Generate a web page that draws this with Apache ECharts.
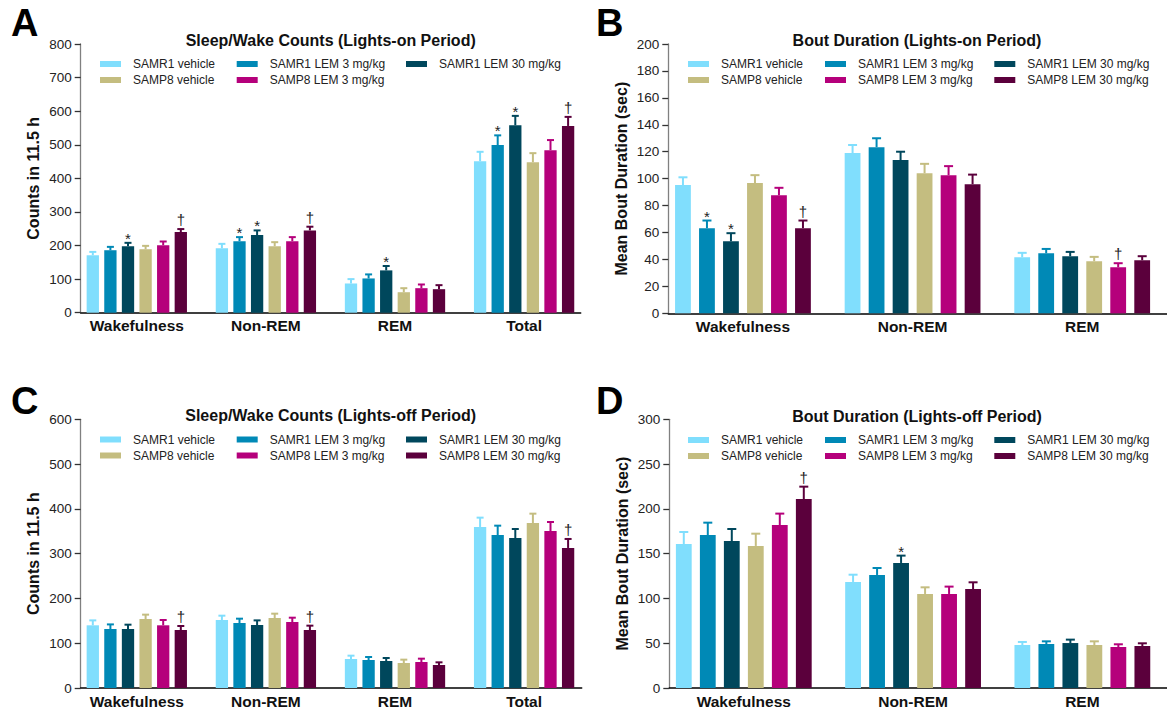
<!DOCTYPE html>
<html><head><meta charset="utf-8">
<script src="https://cdn.jsdelivr.net/npm/echarts@6/dist/echarts.min.js"></script>
<style>html,body{margin:0;padding:0;background:#fff}#c{width:1167px;height:713px}</style>
</head><body><div id="c"></div>
<script>
// ---------- DATA ----------
const seriesNames = ['SAMR1 vehicle','SAMR1 LEM 3 mg/kg','SAMR1 LEM 30 mg/kg','SAMP8 vehicle','SAMP8 LEM 3 mg/kg','SAMP8 LEM 30 mg/kg'];
const colors = ['#80DEFD','#0089B6','#00475C','#C4BD80','#B5007B','#5B003C'];
const catsCounts = ['Wakefulness','Non-REM','REM','Total'];
const catsBout = ['Wakefulness','Non-REM','REM'];

// Panel A: Sleep/Wake counts, lights-on (mean, SEM) per series across categories
const aMean = [[171,192,87,451],[186,213,102,499],[198,231,126,558],[189,198,61,448],[201,213,73,484],[240,245,70,556]];
const aSem  = [[10,13,13,28],[10,12,12,29],[10,14,13,28],[10,12,12,27],[11,12,11,30],[9,11,12,27]];
const aSig  = [['','','',''],['','*','','*'],['*','*','*','*'],['','','',''],['','','',''],['†','†','','†']];

// Panel B: Bout duration, lights-on
const bMean = [[95.2,119,41.6],[63.2,123.4,44.6],[53.5,113.8,42.4],[96.7,104,38.7],[87.7,102.6,34.2],[63.2,95.9,39.4]];
const bSem  = [[5.8,6,3.3],[5.7,6.6,3.2],[6,6.2,3.2],[5.9,7,3.2],[5.5,6.7,3],[5.7,7.1,3]];
const bSig  = [['','',''],['*','',''],['*','',''],['','',''],['','','†'],['†','','']];

// Panel C: Sleep/Wake counts, lights-off
const cMean = [[140,151.9,64.8,359.6],[131.8,145.2,62.5,341.7],[131.8,140.7,60.3,335],[154,156.3,55.8,368.5],[140,147.4,58,350.6],[129.5,129.5,51.4,312.7]];
const cSem  = [[11,9.6,7.4,20.8],[10.2,9.6,6.7,20.8],[9.6,10.3,6.7,20],[9.8,9.7,7.5,20.8],[11.9,9.6,7.5,20.1],[9,9.7,5.9,20.1]];
const cSig  = [['','','',''],['','','',''],['','','',''],['','','',''],['','','',''],['†','†','','†']];

// Panel D: Bout duration, lights-off
const dMean = [[160.8,118.4,48],[170.8,126.2,49.1],[164.1,139.6,50.2],[158.6,105,48],[182,105,45.8],[211,110.5,46.9]];
const dSem  = [[13.4,8.1,3.4],[13.8,7.8,3],[13.4,8.2,3.8],[13.7,7.4,4.1],[12.7,8.2,3],[13.8,7.5,3]];
const dSig  = [['','',''],['','',''],['','*',''],['','',''],['','',''],['†','','']];

const panels = [
  {letter:'A', title:'Sleep/Wake Counts (Lights-on Period)', yName:'Counts in 11.5 h', cats:catsCounts, mean:aMean, sem:aSem, sig:aSig, max:800, interval:100,
   legendCols:[[0,3],[1,4],[2]]},
  {letter:'B', title:'Bout Duration (Lights-on Period)', yName:'Mean Bout Duration (sec)', cats:catsBout, mean:bMean, sem:bSem, sig:bSig, max:200, interval:20,
   legendCols:[[0,3],[1,4],[2,5]]},
  {letter:'C', title:'Sleep/Wake Counts (Lights-off Period)', yName:'Counts in 11.5 h', cats:catsCounts, mean:cMean, sem:cSem, sig:cSig, max:600, interval:100,
   legendCols:[[0,3],[1,4],[2,5]]},
  {letter:'D', title:'Bout Duration (Lights-off Period)', yName:'Mean Bout Duration (sec)', cats:catsBout, mean:dMean, sem:dSem, sig:dSig, max:300, interval:50,
   legendCols:[[0,3],[1,4],[2,5]]}
];

// ---------- LAYOUT ----------
const layouts = [
  {gridLeft:72.25, gridWidth:516.4, top:44, height:268.7, axisX:80.7, axisW:500, barW:12.3, step:17.6, capW:7,
   titleX:330.7, titleY:40.7, letterX:11, letterY:23, legendX:[100,236.7,406], legendY:57, nameGap:39},
  {gridLeft:658.15, gridWidth:522.9, top:44, height:269.3, axisX:668.3, axisW:498.7, barW:15.8, step:24, capW:9,
   titleX:917, titleY:40.7, letterX:596, letterY:23, legendX:[688,825,994.3], legendY:57, nameGap:38.5},
  {gridLeft:72.25, gridWidth:516.4, top:419.3, height:268.7, axisX:80.7, axisW:501, barW:12.3, step:17.6, capW:7,
   titleX:330.7, titleY:415.5, letterX:11, letterY:401, legendX:[100,236.7,406], legendY:432.5, nameGap:39},
  {gridLeft:659.15, gridWidth:522.9, top:419.3, height:268.7, axisX:669.3, axisW:497.7, barW:15.8, step:24, capW:9,
   titleX:917, titleY:416, letterX:596, letterY:401, legendX:[688,825,994.3], legendY:433, nameGap:38.5}
];

const FONT = '"Liberation Sans", Arial, sans-serif';
const grids = [], xAxes = [], yAxes = [], series = [], legends = [], graphics = [];

panels.forEach((p, pi) => {
  const L = layouts[pi];
  const gi = grids.length;
  grids.push({left:L.gridLeft, top:L.top, width:L.gridWidth, height:L.height, containLabel:false});
  xAxes.push({type:'category', gridIndex:gi, data:p.cats,
    axisLine:{show:false}, axisTick:{show:false},
    axisLabel:{fontFamily:FONT, fontSize:15.5, fontWeight:'bold', color:'#111', margin:5}});
  yAxes.push({type:'value', gridIndex:gi, min:0, max:p.max, interval:p.interval,
    offset: L.gridLeft - L.axisX,
    axisLine:{show:true, lineStyle:{color:'#808080', width:1.3}},
    axisTick:{show:true, length:6, lineStyle:{color:'#333', width:1.3}},
    splitLine:{show:false},
    axisLabel:{fontFamily:FONT, fontSize:13.5, color:'#222', margin:9},
    name:p.yName, nameLocation:'middle', nameGap:L.nameGap,
    nameTextStyle:{fontFamily:FONT, fontSize:16, fontWeight:'bold', color:'#111'}});
  const gapPct = ((L.step - L.barW) / L.barW * 100).toFixed(1) + '%';
  p.mean.forEach((vals, s) => {
    series.push({type:'bar', name:seriesNames[s], xAxisIndex:gi, yAxisIndex:gi, data:vals,
      barWidth:L.barW, barGap:gapPct, itemStyle:{color:colors[s]}, silent:true, z:2});
    const off = (s - 2.5) * L.step;
    const sigs = p.sig[s];
    series.push({type:'custom', name:seriesNames[s], xAxisIndex:gi, yAxisIndex:gi, silent:true, z:3,
      data: vals.map((v, ci) => [ci, v, v + p.sem[s][ci]]),
      encode:{x:0, y:[1,2]},
      renderItem: function(params, api){
        const ci = api.value(0);
        const base = api.coord([ci, api.value(1)]);
        const tp = api.coord([ci, api.value(2)]);
        const x = base[0] + off;
        const st = {stroke:colors[s], lineWidth:2};
        const children = [
          {type:'line', shape:{x1:x, y1:base[1], x2:x, y2:tp[1]}, style:st},
          {type:'line', shape:{x1:x - L.capW/2, y1:tp[1], x2:x + L.capW/2, y2:tp[1]}, style:st}
        ];
        const t = sigs[params.dataIndex];
        if (t) {
          children.push({type:'text', z2:10, style:{text:t, x:x, y: t === '*' ? tp[1] + 3 : tp[1] - 2,
            align:'center', verticalAlign:'bottom', font:'15px ' + FONT, fill:'#222'}});
        }
        return {type:'group', children:children};
      }});
  });
  // x axis line (exact extent) on an overlay grid
  const gl = grids.length;
  grids.push({left:L.axisX, top:L.top, width:L.axisW, height:L.height, containLabel:false});
  xAxes.push({type:'value', gridIndex:gl, min:0, max:1, axisLine:{show:true, onZero:false, lineStyle:{color:'#000', width:1.5}},
    axisTick:{show:false}, axisLabel:{show:false}, splitLine:{show:false}});
  yAxes.push({type:'value', gridIndex:gl, min:0, max:1, show:false});
  // legends: one per column
  p.legendCols.forEach((col, k) => {
    legends.push({orient:'vertical', left:L.legendX[k], top:L.legendY, padding:0, itemGap:2,
      itemWidth:21, itemHeight:6, icon:'rect', selectedMode:false,
      data: col.map(i => seriesNames[i]),
      textStyle:{fontFamily:FONT, fontSize:12, color:'#222', lineHeight:14, padding:[0,0,0,7]}});
  });
  graphics.push({type:'text', x:L.titleX, y:L.titleY, style:{text:p.title, align:'center', verticalAlign:'middle',
    font:'bold 16px ' + FONT, fill:'#111'}});
  graphics.push({type:'text', x:L.letterX, y:L.letterY, style:{text:p.letter, align:'left', verticalAlign:'middle',
    font:'bold 38px ' + FONT, fill:'#000'}});
});

const chart = echarts.init(document.getElementById('c'), null, {renderer:'svg'});
chart.setOption({
  animation:false,
  backgroundColor:'#fff',
  grid:grids, xAxis:xAxes, yAxis:yAxes, series:series, legend:legends, graphic:graphics
});
</script>
</body></html>
